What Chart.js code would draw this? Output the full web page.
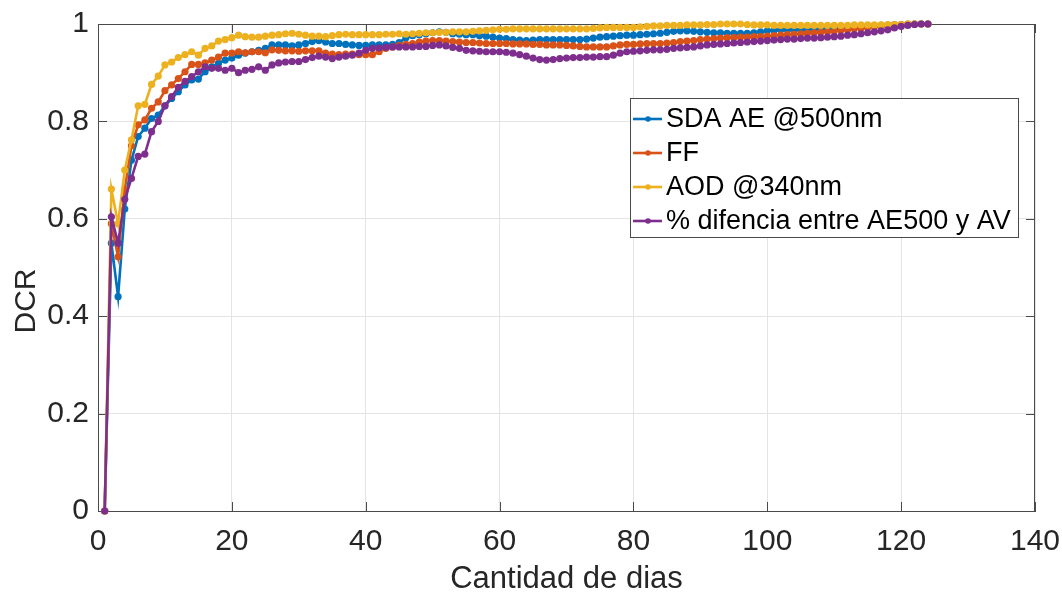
<!DOCTYPE html>
<html><head><meta charset="utf-8">
<script src="https://cdn.jsdelivr.net/npm/chart.js@4/dist/chart.umd.min.js"></script>
<style>html,body{margin:0;padding:0;background:#fff;} #c{display:block;}</style>
</head><body>
<canvas id="c" width="1062" height="595" style="width:1062px;height:595px"></canvas>
<script>
const days = [
 1,2,3,4,5,6,7,8,9,10,11,12,13,14,15,16,17,18,19,20,
 21,22,23,24,25,26,27,28,29,30,31,32,33,34,35,36,37,38,39,40,
 41,42,43,44,45,46,47,48,49,50,51,52,53,54,55,56,57,58,59,60,
 61,62,63,64,65,66,67,68,69,70,71,72,73,74,75,76,77,78,79,80,
 81,82,83,84,85,86,87,88,89,90,91,92,93,94,95,96,97,98,99,100,
 101,102,103,104,105,106,107,108,109,110,111,112,113,114,115,116,117,118,119,120,
 121,122,123,124];

const seriesNames = ['SDA AE @500nm', 'FF', 'AOD @340nm', '% difencia entre AE500 y AV'];

const sdaAE500 = [
 0, 0.55, 0.44, 0.62, 0.72, 0.769, 0.786, 0.806, 0.813, 0.832,
 0.847, 0.861, 0.875, 0.885, 0.887, 0.902, 0.912, 0.919, 0.926, 0.93,
 0.936, 0.94, 0.943, 0.946, 0.95, 0.957, 0.957, 0.957, 0.955, 0.957,
 0.96, 0.964, 0.966, 0.963, 0.96, 0.96, 0.958, 0.957, 0.956, 0.956,
 0.957, 0.957, 0.957, 0.958, 0.962, 0.972, 0.976, 0.978, 0.98, 0.982,
 0.984, 0.983, 0.98, 0.979, 0.978, 0.978, 0.976, 0.975, 0.973, 0.971,
 0.97, 0.968, 0.967, 0.966, 0.967, 0.968, 0.968, 0.968, 0.968, 0.968,
 0.968, 0.968, 0.969, 0.971, 0.973, 0.974, 0.975, 0.976, 0.977, 0.977,
 0.978, 0.979, 0.98, 0.981, 0.983, 0.985, 0.986, 0.986, 0.985, 0.984,
 0.983, 0.982, 0.982, 0.981, 0.981, 0.981, 0.981, 0.982, 0.984, 0.986,
 0.987, 0.988, 0.988, 0.988, 0.988, 0.988, 0.989, 0.989, 0.99, 0.991,
 0.992, 0.993, 0.994, 0.995, 0.996, 0.996, 0.997, 0.997, 0.998, 0.998,
 0.999, 1, 1, 1];

const ff = [
 0, 0.59, 0.522, 0.66, 0.75, 0.793, 0.803, 0.827, 0.84, 0.863,
 0.875, 0.888, 0.902, 0.917, 0.917, 0.92, 0.926, 0.932, 0.94, 0.94,
 0.943, 0.941, 0.943, 0.943, 0.941, 0.947, 0.946, 0.945, 0.945, 0.944,
 0.945, 0.945, 0.945, 0.94, 0.938, 0.937, 0.938, 0.938, 0.937, 0.937,
 0.937, 0.943, 0.95, 0.953, 0.956, 0.958, 0.96, 0.963, 0.965, 0.966,
 0.966, 0.965, 0.964, 0.963, 0.962, 0.962, 0.961, 0.96, 0.96, 0.96,
 0.96, 0.959, 0.959, 0.959, 0.958, 0.958, 0.957, 0.957, 0.957, 0.956,
 0.955, 0.954, 0.953, 0.953, 0.953, 0.953, 0.955, 0.957, 0.958, 0.958,
 0.959, 0.96, 0.96, 0.96, 0.961, 0.962, 0.964, 0.965, 0.966, 0.968,
 0.969, 0.97, 0.971, 0.972, 0.972, 0.973, 0.973, 0.974, 0.974, 0.975,
 0.976, 0.977, 0.978, 0.979, 0.98, 0.981, 0.982, 0.983, 0.984, 0.985,
 0.987, 0.988, 0.99, 0.991, 0.993, 0.995, 0.996, 0.997, 0.998, 0.999,
 1, 1, 1, 1];

const aod340 = [
 0, 0.661, 0.59, 0.70, 0.762, 0.832, 0.835, 0.876, 0.893, 0.916,
 0.922, 0.931, 0.937, 0.943, 0.936, 0.95, 0.955, 0.965, 0.968, 0.972,
 0.977, 0.974, 0.973, 0.973, 0.975, 0.977, 0.978, 0.98, 0.981, 0.979,
 0.977, 0.975, 0.975, 0.974, 0.976, 0.978, 0.979, 0.978, 0.978, 0.978,
 0.978, 0.978, 0.979, 0.979, 0.98, 0.979, 0.98, 0.981, 0.982, 0.982,
 0.983, 0.983, 0.984, 0.984, 0.984, 0.985, 0.986, 0.987, 0.988, 0.989,
 0.989, 0.99, 0.99, 0.99, 0.99, 0.99, 0.99, 0.99, 0.99, 0.99,
 0.99, 0.99, 0.99, 0.991, 0.992, 0.993, 0.993, 0.993, 0.993, 0.993,
 0.994, 0.995, 0.996, 0.996, 0.997, 0.997, 0.997, 0.998, 0.998, 0.998,
 0.999, 0.999, 1, 1, 1, 1, 0.999, 0.998, 0.998, 0.998,
 0.997, 0.997, 0.997, 0.997, 0.997, 0.997, 0.997, 0.997, 0.997, 0.997,
 0.997, 0.997, 0.998, 0.998, 0.998, 0.998, 0.998, 0.999, 0.999, 0.999,
 1, 1, 1, 1];

const difAE500AV = [
 0, 0.604, 0.55, 0.64, 0.683, 0.728, 0.733, 0.779, 0.80, 0.832,
 0.851, 0.87, 0.882, 0.892, 0.902, 0.912, 0.909, 0.909, 0.905, 0.909,
 0.90, 0.905, 0.907, 0.912, 0.905, 0.916, 0.92, 0.922, 0.923, 0.923,
 0.927, 0.931, 0.934, 0.932, 0.929, 0.932, 0.934, 0.936, 0.94, 0.946,
 0.95, 0.951, 0.952, 0.953, 0.953, 0.953, 0.953, 0.954, 0.954, 0.956,
 0.957, 0.955, 0.952, 0.95, 0.946, 0.945, 0.944, 0.943, 0.943, 0.943,
 0.942, 0.94, 0.937, 0.934, 0.93, 0.927, 0.926, 0.927, 0.929, 0.93,
 0.931, 0.931, 0.932, 0.932, 0.933, 0.933, 0.936, 0.94, 0.943, 0.944,
 0.945, 0.946, 0.947, 0.947, 0.948, 0.95, 0.951, 0.952, 0.953, 0.955,
 0.957, 0.958, 0.959, 0.96, 0.961, 0.962, 0.963, 0.964, 0.965, 0.966,
 0.967, 0.968, 0.969, 0.969, 0.97, 0.971, 0.971, 0.972, 0.973, 0.974,
 0.975, 0.977, 0.978, 0.98, 0.982, 0.984, 0.986, 0.988, 0.992, 0.995,
 0.997, 0.999, 1, 1];

const xTickValues = [0, 20, 40, 60, 80, 100, 120, 140];
const xTickLabels = ['0', '20', '40', '60', '80', '100', '120', '140'];
const yTickValues = [0, 0.2, 0.4, 0.6, 0.8, 1];
const yTickLabels = ['0', '0.2', '0.4', '0.6', '0.8', '1'];
const xTitle = 'Cantidad de dias';
const yTitle = 'DCR';

const colors = ['#0072BD', '#D95319', '#EDB120', '#7E2F8E'];
const seriesValues = [sdaAE500, ff, aod340, difAE500AV];
const FONT = "'Liberation Sans', Arial, Helvetica, sans-serif";
const TXT = '#262626';

const datasets = seriesValues.map((vals, i) => ({
  label: seriesNames[i],
  data: days.map((d, k) => ({x: d, y: vals[k]})),
  borderColor: colors[i],
  backgroundColor: colors[i],
  pointBackgroundColor: colors[i],
  pointBorderColor: colors[i],
  pointBorderWidth: 0,
  pointRadius: 3.6,
  borderWidth: 2.6,
  tension: 0,
  clip: false,
  order: seriesValues.length - i
}));

const boxPlugin = {
  id: 'matlabBox',
  beforeDatasetsDraw(chart) {
    const {ctx, chartArea: a, scales: {x, y}} = chart;
    ctx.save();
    ctx.strokeStyle = '#4a4a4a';
    ctx.lineWidth = 1;
    ctx.beginPath();
    ctx.moveTo(a.left, a.top + 0.5); ctx.lineTo(a.right, a.top + 0.5);
    ctx.moveTo(a.right - 0.5, a.top); ctx.lineTo(a.right - 0.5, a.bottom);
    const tl = 9;
    xTickValues.forEach(v => {
      const px = Math.round(x.getPixelForValue(v)) + 0.5;
      ctx.moveTo(px, a.bottom); ctx.lineTo(px, a.bottom - tl);
      ctx.moveTo(px, a.top); ctx.lineTo(px, a.top + tl);
    });
    yTickValues.forEach(v => {
      const py = Math.round(y.getPixelForValue(v)) + 0.5;
      ctx.moveTo(a.left, py); ctx.lineTo(a.left + tl, py);
      ctx.moveTo(a.right, py); ctx.lineTo(a.right - tl, py);
    });
    ctx.stroke();
    ctx.restore();
  }
};

const yTitlePlugin = {
  id: 'yTitle',
  afterDraw(chart) {
    const {ctx, chartArea: a} = chart;
    ctx.save();
    ctx.translate(27, a.top + 277);
    ctx.rotate(-Math.PI / 2);
    ctx.font = '30px ' + FONT;
    ctx.fillStyle = TXT;
    ctx.textAlign = 'center';
    ctx.textBaseline = 'middle';
    ctx.fillText(yTitle, 0, 0);
    ctx.restore();
  }
};

const legendPlugin = {
  id: 'insideLegend',
  afterDraw(chart) {
    const {ctx, chartArea: a} = chart;
    const L = {x: a.right - 405, y: a.top + 74, w: 388, h: 139};
    ctx.save();
    ctx.fillStyle = '#ffffff';
    ctx.fillRect(L.x, L.y, L.w, L.h);
    ctx.strokeStyle = '#4a4a4a';
    ctx.lineWidth = 1;
    ctx.strokeRect(L.x + 0.5, L.y + 0.5, L.w, L.h);
    ctx.font = '27px ' + FONT;
    ctx.textBaseline = 'middle';
    ctx.textAlign = 'left';
    chart.data.datasets.forEach((ds, i) => {
      const cy = L.y + 21 + i * 34;
      ctx.strokeStyle = ds.borderColor;
      ctx.lineWidth = 2.6;
      ctx.beginPath();
      ctx.moveTo(L.x + 3, cy); ctx.lineTo(L.x + 32, cy);
      ctx.stroke();
      ctx.fillStyle = ds.borderColor;
      ctx.beginPath();
      ctx.arc(L.x + 18, cy, 2.8, 0, Math.PI * 2);
      ctx.fill();
      ctx.fillStyle = '#000000';
      ctx.fillText(ds.label, L.x + 36, cy + 1);
    });
    ctx.restore();
  }
};

new Chart(document.getElementById('c'), {
  type: 'line',
  data: {datasets},
  options: {
    responsive: false,
    animation: false,
    devicePixelRatio: 1,
    layout: {padding: {left: 0, top: 24, right: 27, bottom: 0}},
    plugins: {legend: {display: false}, tooltip: {enabled: false}},
    scales: {
      x: {
        type: 'linear', min: 0, max: 140,
        afterBuildTicks: s => { s.ticks = xTickValues.map(v => ({value: v})); },
        afterFit: s => { s.height = 84; s.paddingLeft = 0; s.paddingRight = 0; },
        ticks: {
          callback: (v, i) => xTickLabels[i],
          font: {family: FONT, size: 30}, color: TXT, padding: 13,
          maxRotation: 0, autoSkip: false
        },
        grid: {color: '#e4e4e4', lineWidth: 1, drawTicks: false},
        border: {display: true, color: '#4a4a4a', width: 1},
        title: {display: true, text: xTitle, font: {family: FONT, size: 31}, color: TXT, padding: {top: 0, bottom: -3}}
      },
      y: {
        type: 'linear', min: 0, max: 1,
        afterBuildTicks: s => { s.ticks = yTickValues.map(v => ({value: v})); },
        afterFit: s => { s.width = 98; s.paddingTop = 0; s.paddingBottom = 0; },
        ticks: {
          callback: (v, i) => yTickLabels[i],
          font: {family: FONT, size: 30}, color: TXT, padding: 9, autoSkip: false
        },
        grid: {color: '#e4e4e4', lineWidth: 1, drawTicks: false},
        border: {display: true, color: '#4a4a4a', width: 1},
        title: {display: false}
      }
    }
  },
  plugins: [boxPlugin, legendPlugin, yTitlePlugin]
});
</script>
</body></html>
